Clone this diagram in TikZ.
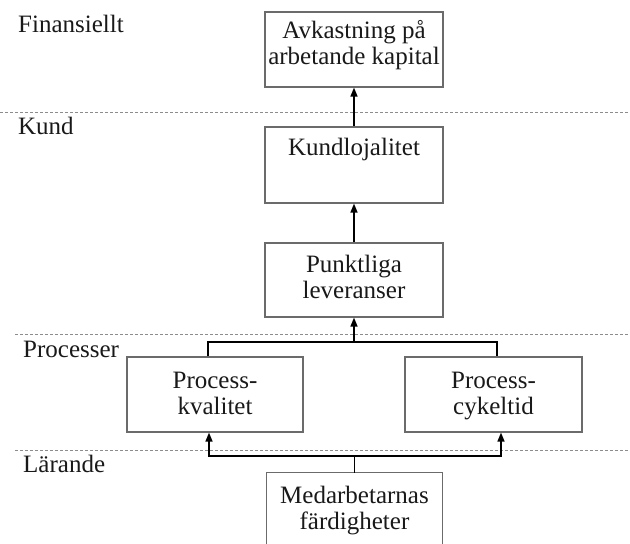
\documentclass[tikz,border=0pt]{standalone}
\usepackage{fontspec}
\setmainfont{Liberation Serif}
\usetikzlibrary{arrows.meta}
\definecolor{boxgray}{gray}{0.42}
\definecolor{dashgray}{gray}{0.55}
\definecolor{txtcol}{gray}{0.1}
\newcommand\dfont{\fontsize{25}{26}\selectfont}
\newcommand\twolines[2]{\begin{tabular}[t]{@{}c@{}}#1\\#2\end{tabular}}
\begin{document}
\begin{tikzpicture}[x=1pt,y=-1pt,
  box/.style={draw=boxgray, line width=1.2pt, inner xsep=0pt, inner ysep=0pt,
    font=\dfont, text=txtcol, anchor=base},
  openbox/.style={inner xsep=0pt, inner ysep=0pt, font=\dfont, text=txtcol, anchor=base},
  lbl/.style={font=\dfont, text=txtcol, anchor=base west, inner sep=0pt},
  sep/.style={dashgray, line width=0.9pt, dash pattern=on 3pt off 2pt},
  conn/.style={black, line width=1.5pt},
  arr/.style={conn, -{Triangle[length=9pt,width=7pt]}}]
\useasboundingbox (0,0) rectangle (630,544);

% layer separators
\draw[sep] (0,112) -- (630,112);
\draw[sep] (15,334) -- (630,334);
\draw[sep] (15,450) -- (630,450);

% layer labels
\node[lbl] (fin) at (18,32) {Finansiellt};
\node[lbl] (kund) at (18,134) {Kund};
\node[lbl] (proc) at (23,357) {Processer};
\node[lbl] (lar) at (23,472) {Lärande};

% boxes
\node[box, minimum width=178pt, text height=26pt, text depth=49pt] (av) at (354,38)
  {\twolines{Avkastning på}{arbetande kapital}};
\node[box, minimum width=178pt, text height=28pt, text depth=48pt] (kl) at (354,155)
  {Kundlojalitet};
\node[box, minimum width=178pt, text height=29pt, text depth=45pt] (pl) at (354,272)
  {\twolines{Punktliga}{leveranser}};
\node[box, minimum width=176pt, text height=31pt, text depth=44pt] (pk) at (215,388)
  {\twolines{Process-}{kvalitet}};
\node[box, minimum width=177pt, text height=31pt, text depth=44pt] (pc) at (493.5,388)
  {\twolines{Process-}{cykeltid}};
\node[openbox, minimum width=175pt, text height=30pt, text depth=41pt] (md) at (354.5,503)
  {\twolines{Medarbetarnas}{färdigheter}};
\draw[draw=boxgray, line width=1.2pt] (md.south west) -- (md.north west) -- (md.north east) -- (md.south east);

% connectors
\draw[arr] (kl.north) -- (av.south);
\draw[arr] (pl.north) -- (kl.south);
\coordinate (j1) at (354,342);
\draw[conn] ([xshift=-7pt]pk.north) |- (j1) -| ([xshift=3.5pt]pc.north);
\draw[arr] (j1) -- (pl.south);
\coordinate (j2) at (354.5,456);
\draw[conn] (md.north) -- (j2);
\draw[arr] (j2) -| ([xshift=-6pt]pk.south);
\draw[arr] (j2) -| ([xshift=7.5pt]pc.south);
\end{tikzpicture}
\end{document}
